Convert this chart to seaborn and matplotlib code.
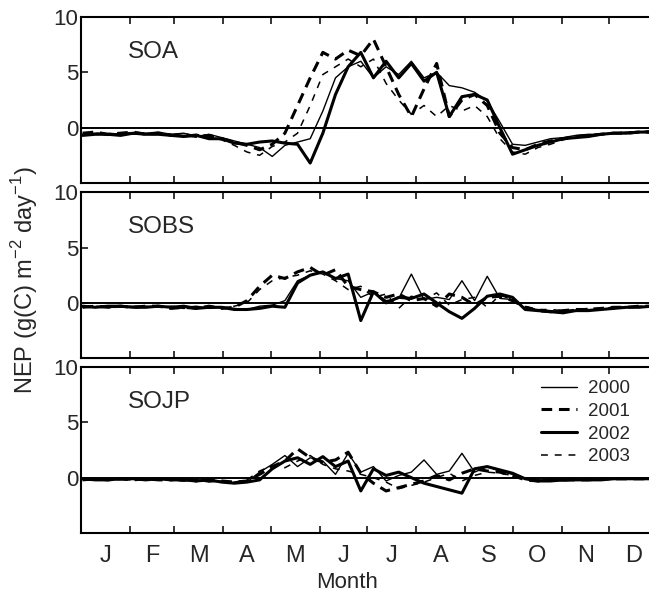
import numpy as np
import pandas as pd
import matplotlib
matplotlib.use("Agg")
import matplotlib.pyplot as plt
import seaborn as sns

# 8-day composite, day of year
days = [1, 9, 17, 25, 33, 41, 49, 57, 65, 73, 81, 89, 97, 105, 113, 121,
        129, 137, 145, 153, 161, 169, 177, 185, 193, 201, 209, 217, 225,
        233, 241, 249, 257, 265, 273, 281, 289, 297, 305, 313, 321, 329,
        337, 345, 353, 361]
years = ["2000", "2001", "2002", "2003"]
sites = ["SOA", "SOBS", "SOJP"]
months = ["J", "F", "M", "A", "M", "J", "J", "A", "S", "O", "N", "D"]
month_edges = [31, 59, 90, 120, 151, 181, 212, 243, 273, 304, 334]
month_mids = [15.5, 45, 74.5, 105, 135.5, 166, 196.5, 227.5, 258, 288.5, 319, 349.5]

# ---- SOA
soa_2000 = [-0.6, -0.5, -0.7, -0.5, -0.6, -0.5, -0.4, -0.6, -0.5, -0.8, -0.6, -0.9,
            -1.2, -1.5, -1.8, -2.6, -1.6, -1.3, -1.0, 1.5, 4.5, 5.5, 6.0, 4.5,
            5.5, 4.8, 6.0, 4.5, 5.0, 3.8, 3.6, 3.2, 2.4, 0.5, -1.5, -1.6,
            -1.3, -1.0, -0.9, -0.7, -0.6, -0.6, -0.5, -0.4, -0.4, -0.3]
soa_2001 = [-0.5, -0.4, -0.6, -0.5, -0.4, -0.6, -0.5, -0.7, -0.6, -0.8, -0.7, -1.0,
            -1.3, -1.6, -2.0, -1.5, -0.5, 2.0, 4.5, 6.8, 6.2, 7.0, 6.5, 8.0,
            5.5, 3.0, 1.0, 3.5, 5.8, 1.0, 2.5, 3.0, 2.0, -0.5, -1.8, -2.0,
            -1.5, -1.2, -1.0, -0.8, -0.7, -0.6, -0.5, -0.5, -0.4, -0.4]
soa_2002 = [-0.7, -0.6, -0.6, -0.7, -0.5, -0.6, -0.6, -0.7, -0.8, -0.7, -1.0, -1.0,
            -1.4, -1.5, -1.3, -1.2, -1.4, -1.5, -3.2, -0.5, 3.0, 5.5, 6.8, 4.5,
            6.0, 4.5, 5.8, 4.2, 5.0, 1.0, 2.8, 3.0, 2.5, 0.0, -2.4, -2.0,
            -1.6, -1.3, -1.0, -0.9, -0.8, -0.6, -0.5, -0.5, -0.4, -0.4]
soa_2003 = [-0.6, -0.5, -0.5, -0.6, -0.4, -0.5, -0.5, -0.6, -0.7, -0.6, -0.9, -1.1,
            -1.6, -2.2, -2.5, -1.7, -1.3, -0.5, 2.0, 4.8, 5.5, 6.2, 5.5, 6.2,
            4.0, 2.5, 1.2, 2.0, 1.0, 2.0, 1.5, 2.0, 1.0, -1.0, -2.2, -2.4,
            -1.8, -1.5, -1.1, -0.9, -0.7, -0.6, -0.5, -0.4, -0.4, -0.3]

# ---- SOBS
sobs_2000 = [-0.3, -0.4, -0.3, -0.4, -0.3, -0.3, -0.4, -0.3, -0.4, -0.3, -0.5, -0.4,
             -0.5, -0.6, -0.3, -0.2, 0.2, 2.0, 2.5, 2.8, 2.2, 2.0, 0.5, 1.0,
             0.2, 0.4, 2.6, 0.3, 0.5, 0.3, 2.0, 0.2, 2.4, 0.4, 0.3, -0.5,
             -0.6, -0.7, -0.8, -0.7, -0.6, -0.6, -0.5, -0.4, -0.4, -0.3]
sobs_2001 = [-0.4, -0.3, -0.4, -0.3, -0.4, -0.3, -0.3, -0.5, -0.4, -0.5, -0.3, -0.5,
             -0.4, 0.2, 1.5, 2.5, 2.2, 2.8, 3.2, 2.5, 3.0, 1.5, 1.2, 1.0,
             0.5, 0.8, 0.2, 0.4, -0.3, 0.8, 0.5, -0.2, 0.5, 0.6, 0.2, -0.4,
             -0.7, -0.8, -0.7, -0.6, -0.6, -0.5, -0.4, -0.4, -0.3, -0.3]
sobs_2002 = [-0.3, -0.4, -0.3, -0.3, -0.4, -0.4, -0.3, -0.4, -0.3, -0.5, -0.4, -0.4,
             -0.6, -0.6, -0.5, -0.3, -0.4, 1.8, 2.5, 2.8, 2.2, 2.6, -1.6, 1.0,
             0.0, 0.5, 0.4, 0.8, 0.0, -0.8, -1.4, -0.5, 0.6, 0.8, 0.5, -0.6,
             -0.7, -0.8, -0.9, -0.7, -0.7, -0.6, -0.5, -0.4, -0.4, -0.3]
sobs_2003 = [-0.4, -0.3, -0.4, -0.4, -0.3, -0.4, -0.3, -0.4, -0.5, -0.4, -0.4, -0.5,
             -0.3, 0.0, 1.2, 2.0, 2.3, 2.5, 2.9, 2.6, 2.0, 1.2, 1.5, 0.5,
             0.8, -0.5, 0.6, 0.3, 0.9, -0.2, 0.3, 0.5, -0.4, 0.7, 0.3, -0.3,
             -0.6, -0.6, -0.7, -0.6, -0.5, -0.5, -0.4, -0.4, -0.3, -0.3]

# ---- SOJP
sojp_2000 = [-0.1, -0.2, -0.1, -0.2, -0.1, -0.2, -0.1, -0.2, -0.3, -0.2, -0.4, -0.3,
             -0.5, -0.4, 0.5, 1.2, 2.0, 1.0, 1.8, 1.5, 0.3, 2.2, 0.5, 1.0,
             -0.3, 0.2, 0.5, 1.6, 0.3, 0.6, 2.2, 0.5, 1.0, 0.6, 0.3, -0.1,
             -0.2, -0.2, -0.3, -0.2, -0.2, -0.2, -0.1, -0.1, -0.1, -0.1]
sojp_2001 = [-0.2, -0.1, -0.2, -0.1, -0.2, -0.1, -0.2, -0.2, -0.1, -0.3, -0.2, -0.3,
             -0.4, -0.3, 0.3, 1.0, 1.5, 2.6, 1.8, 1.4, 1.6, 2.3, 0.4, -0.5,
             -1.2, -0.9, -0.6, -0.3, 0.2, -0.2, 0.4, 0.8, 0.6, 0.5, 0.2, -0.2,
             -0.3, -0.2, -0.2, -0.2, -0.2, -0.1, -0.1, -0.1, -0.1, -0.1]
sojp_2002 = [-0.1, -0.2, -0.2, -0.1, -0.1, -0.2, -0.1, -0.2, -0.2, -0.3, -0.2, -0.4,
             -0.5, -0.4, -0.2, 0.8, 1.5, 1.8, 1.2, 1.9, 1.0, 1.5, -1.2, 0.8,
             0.2, 0.5, 0.0, -0.5, -0.8, -1.1, -1.4, 0.8, 1.0, 0.7, 0.4, -0.1,
             -0.3, -0.3, -0.2, -0.2, -0.2, -0.2, -0.1, -0.1, -0.1, -0.1]
sojp_2003 = [-0.2, -0.1, -0.1, -0.2, -0.2, -0.1, -0.1, -0.2, -0.3, -0.2, -0.3, -0.4,
             -0.4, -0.2, 0.6, 1.1, 0.9, 1.5, 2.0, 1.2, 0.8, 0.6, 0.3, 0.0,
             -0.4, -1.0, -0.7, -0.4, 0.0, 0.4, -0.3, 0.2, 0.5, 0.4, 0.2, 0.0,
             -0.2, -0.2, -0.2, -0.1, -0.1, -0.1, -0.1, -0.1, -0.1, -0.1]

series = {
    "SOA": [soa_2000, soa_2001, soa_2002, soa_2003],
    "SOBS": [sobs_2000, sobs_2001, sobs_2002, sobs_2003],
    "SOJP": [sojp_2000, sojp_2001, sojp_2002, sojp_2003],
}

rows = []
for site in sites:
    for yr, vals in zip(years, series[site]):
        for d, v in zip(days, vals):
            rows.append((site, yr, d, v))
df = pd.DataFrame(rows, columns=["site", "year", "day", "nep"])

dash_map = {"2000": "", "2001": (3.5, 2.2), "2002": "", "2003": (4.5, 4.5)}
width_map = {"2000": 1.0, "2001": 2.2, "2002": 2.2, "2003": 1.1}

sns.set_style("ticks")
plt.rcParams["font.family"] = ["Liberation Sans", "DejaVu Sans"]

fig = plt.figure(figsize=(6.49, 5.98), dpi=100)
left, width, height = 0.1248, 0.889, 0.2776
bottoms = [0.694, 0.401, 0.1087]
axes = [fig.add_axes([left, b, width, height]) for b in bottoms]

for ax, site in zip(axes, sites):
    sub = df[df["site"] == site]
    sns.lineplot(data=sub, x="day", y="nep", style="year", size="year",
                 style_order=years, size_order=years, dashes=dash_map,
                 sizes=width_map, color="black", estimator=None,
                 legend=(site == "SOJP"), ax=ax)
    ax.axhline(0, color="black", lw=1.4, zorder=1)
    ax.set_xlim(0, 365)
    ax.set_ylim(-5, 10)
    ax.set_yticks([0, 5, 10])
    ax.set_xticks(month_edges)
    ax.set_xticklabels([])
    ax.set_xticks(month_mids, minor=True)
    ax.set_xticklabels(months if site == "SOJP" else [""] * 12, minor=True)
    ax.tick_params(which="major", direction="in", top=True, right=True,
                   length=5, width=1.3, labelsize=16, pad=2)
    ax.tick_params(which="minor", axis="x", length=0, labelsize=17, pad=9)
    ax.set_xlabel("")
    ax.set_ylabel("")
    for sp in ax.spines.values():
        sp.set_linewidth(1.5)
        sp.set_color("black")
    ax.text(0.081, 0.79, site, transform=ax.transAxes, fontsize=17.5,
            ha="left", va="center")

# legend on the bottom panel
handles, labels = axes[2].get_legend_handles_labels()
keep = [(h, l) for h, l in zip(handles, labels) if l in years]
axes[2].legend([h for h, _ in keep], [l for _, l in keep],
               loc="upper right", bbox_to_anchor=(0.974, 1.0), frameon=False,
               fontsize=13.5, handlelength=1.9, handletextpad=0.6,
               labelspacing=0.3, borderpad=0.2)

fig.text(25 / 649, 1 - 280 / 598,
         r"NEP (g(C) m$^{\mathregular{-2}}$ day$^{\mathregular{-1}}$)",
         rotation=90, ha="center", va="center", fontsize=17)
fig.text(347 / 649, 1 - 583 / 598, "Month", ha="center", va="center", fontsize=16)

fig.savefig("out.png", dpi=100)
